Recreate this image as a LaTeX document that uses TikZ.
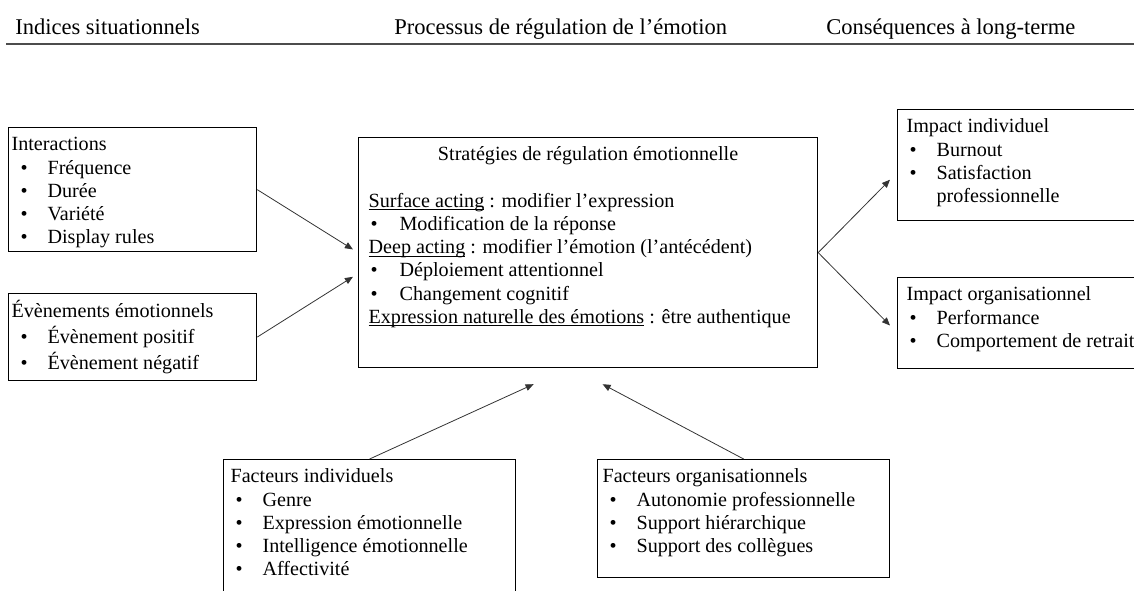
\documentclass[tikz,border=0pt]{standalone}
\usepackage{fontspec}
\setmainfont{Liberation Serif}
\usetikzlibrary{arrows.meta,calc}
\newlength\pxu
\setlength\pxu{0.75pt}
\newcommand{\boxfont}{\fontsize{15.1}{17.4}\selectfont}
\newcommand{\headfont}{\fontsize{16.9}{20}\selectfont}
\newsavebox\ulnbox
\newcommand{\uln}[1]{\sbox\ulnbox{#1}\rlap{\rule[-3.2\pxu]{\wd\ulnbox}{1.2\pxu}}\usebox\ulnbox}
\newcommand{\bul}[1]{\par\hangindent=39\pxu\hangafter=1\makebox[39\pxu][l]{\hspace*{12\pxu}\textbullet}#1\strut}
\newcommand{\panelbody}[3]{\begin{minipage}[c][#2\pxu][t]{#1\pxu}\vspace*{7\pxu}#3\end{minipage}}

\begin{document}
\begin{tikzpicture}[x=0.75pt, y=-0.75pt,
    panel/.style={draw, line width=0.9pt, inner sep=0pt, anchor=north west, font=\boxfont},
    head/.style={anchor=base west, inner sep=0pt, font=\headfont},
    arr/.style={-{Triangle[length=6pt,width=5pt]}, line width=0.6pt, black!80}]
    \useasboundingbox (0,0) rectangle (1134,590);

    % Header
    \node[head] (hsit) at (15,34) {Indices situationnels};
    \node[head] (hproc) at (394,34) {Processus de régulation de l’émotion};
    \node[head] (hcons) at (826,34) {Conséquences à long-terme};
    \draw[line width=1.5pt, black!70] (6,44) -- (1134,44);

    % Situational cues
    \node[panel] (inter) at (8,127) {\panelbody{248}{124}{%
        \hspace*{3\pxu}Interactions\strut
        \bul{Fréquence}
        \bul{Durée}
        \bul{Variété}
        \bul{Display rules}}};
    \node[panel] (emot) at (8,293) {\panelbody{248}{87}{%
        \hspace*{3\pxu}Évènements émotionnels\strut
        \bul{Évènement positif}
        \bul{Évènement négatif}}};

    % Regulation strategies
    \node[panel] (strat) at (358,137) {\panelbody{459}{230}{%
        {\centering Stratégies de régulation émotionnelle\strut\par}
        \mbox{}\par
        \hspace*{10\pxu}\uln{Surface acting} : modifier l’expression\strut
        \bul{\hspace*{2\pxu}Modification de la réponse}
        \par\hspace*{10\pxu}\uln{Deep acting} : modifier l’émotion (l’antécédent)\strut
        \bul{\hspace*{2\pxu}Déploiement attentionnel}
        \bul{\hspace*{2\pxu}Changement cognitif}
        \par\hspace*{10\pxu}\uln{Expression naturelle des émotions} : être authentique\strut}};

    % Consequences
    \node[panel] (indiv) at (897,109) {\panelbody{262}{111}{%
        \hspace*{9\pxu}Impact individuel\strut
        \bul{Burnout}
        \bul{Satisfaction\\professionnelle}}};
    \node[panel] (orga) at (897,277) {\panelbody{262}{91}{%
        \hspace*{9\pxu}Impact organisationnel\strut
        \bul{Performance}
        \bul{Comportement de retrait}}};

    % Moderating factors
    \node[panel] (facind) at (223,459) {\panelbody{292}{170}{%
        \hspace*{7\pxu}Facteurs individuels\strut
        \bul{Genre}
        \bul{Expression émotionnelle}
        \bul{Intelligence émotionnelle}
        \bul{Affectivité}}};
    \node[panel] (facorg) at (597,459) {\panelbody{292}{118}{%
        \hspace*{5\pxu}Facteurs organisationnels\strut
        \bul{Autonomie professionnelle}
        \bul{Support hiérarchique}
        \bul{Support des collègues}}};

    \coordinate (tipind) at ($(strat.south)+(-54.5,16)$);
    \coordinate (tiporg) at ($(strat.south)+(14.5,16)$);

    % Arrows
    \draw[arr, shorten >=4.5pt] (inter.east) -- (strat.west);
    \draw[arr, shorten >=4.5pt] (emot.east) -- ($(strat.west)+(0,21)$);
    \draw[arr, shorten >=7.5pt] (strat.east) -- ($(indiv.west)+(0,7.5)$);
    \draw[arr, shorten >=7.5pt] (strat.east) -- ($(orga.west)+(0,9.5)$);
    \draw[arr] (facind.north) -- (tipind);
    \draw[arr] (facorg.north) -- (tiporg);
\end{tikzpicture}
\end{document}
